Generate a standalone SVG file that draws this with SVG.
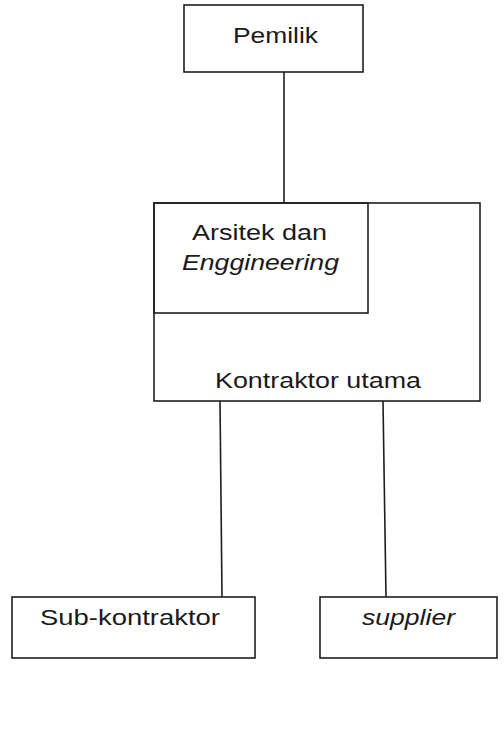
<svg xmlns="http://www.w3.org/2000/svg" width="504" height="747" viewBox="0 0 504 747">
<style>
.box{fill:none;stroke:#1e1e1e;stroke-width:1.6}
.ln{stroke:#1e1e1e;stroke-width:1.6;fill:none}
text{font-family:"Liberation Sans",Arial,sans-serif;font-size:22px;fill:#1a1a1a}
.it{font-style:italic}
</style>
<rect width="504" height="747" fill="#fff"/>
<g id="connectors">
<line class="ln" x1="284" y1="72" x2="284" y2="203"/>
<line class="ln" x1="220" y1="401" x2="222" y2="597"/>
<line class="ln" x1="383" y1="401" x2="386" y2="597"/>
</g>
<g id="pemilik">
<rect class="box" x="184" y="5" width="179" height="67"/>
<text x="233" y="43" textLength="85" lengthAdjust="spacingAndGlyphs">Pemilik</text>
</g>
<g id="kontraktor-utama">
<rect class="box" x="154" y="203" width="326" height="198"/>
<text x="215" y="388" textLength="206" lengthAdjust="spacingAndGlyphs">Kontraktor utama</text>
</g>
<g id="arsitek">
<rect class="box" x="154" y="203" width="214" height="110"/>
<text x="192" y="240" textLength="135" lengthAdjust="spacingAndGlyphs">Arsitek dan</text>
<text class="it" x="182" y="270" textLength="157" lengthAdjust="spacingAndGlyphs">Enggineering</text>
</g>
<g id="sub-kontraktor">
<rect class="box" x="12" y="597" width="243" height="61"/>
<text x="40" y="625" textLength="180" lengthAdjust="spacingAndGlyphs">Sub-kontraktor</text>
</g>
<g id="supplier">
<rect class="box" x="320" y="597" width="177" height="61"/>
<text class="it" x="362" y="625" textLength="93" lengthAdjust="spacingAndGlyphs">supplier</text>
</g>
</svg>
